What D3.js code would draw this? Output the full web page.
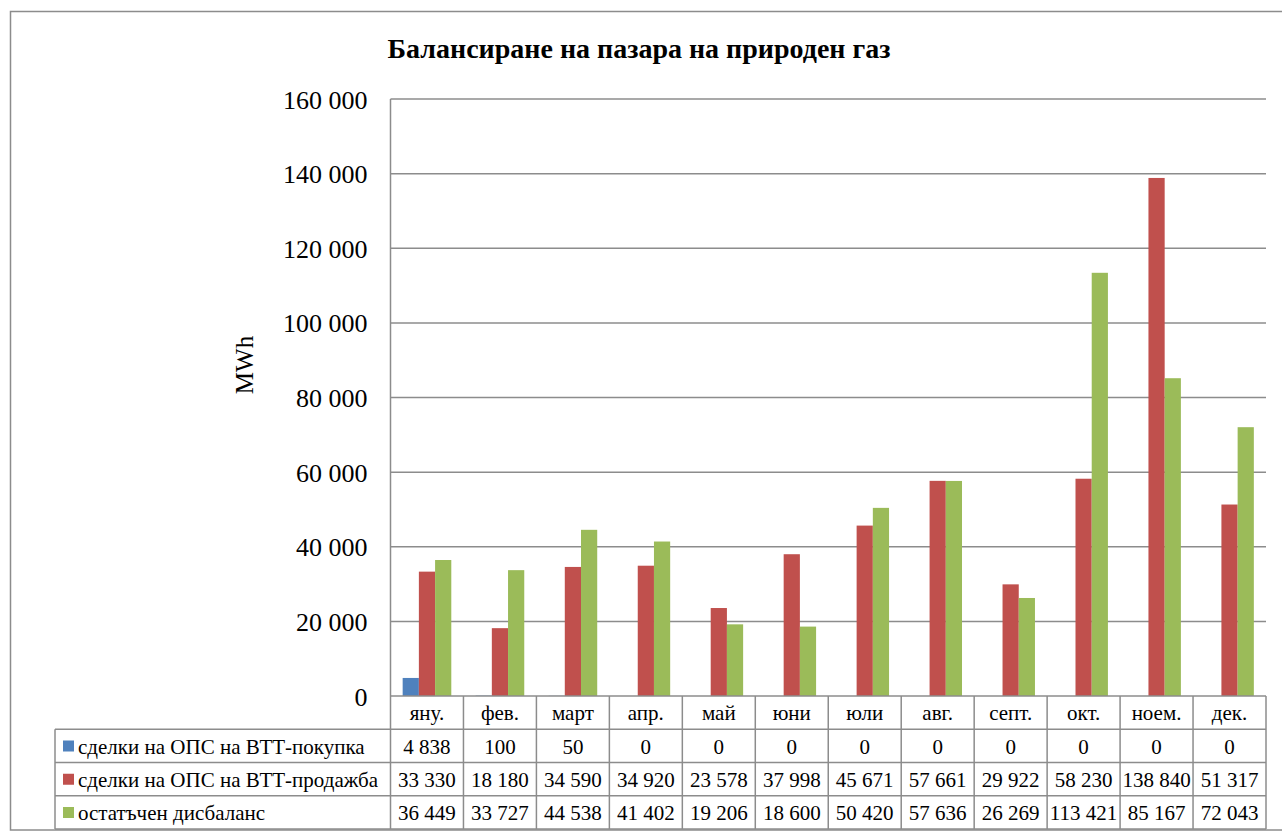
<!DOCTYPE html>
<html>

<head>
    <meta charset="utf-8">
    <title>Балансиране на пазара на природен газ</title>
    <script src="https://d3js.org/d3.v7.min.js"></script>
    <style>
        body {
            margin: 0;
            background: #fff;
        }
    </style>
</head>

<body>
    <div id="chart"></div>
    <script>

        // data
        const months = ["яну.", "фев.", "март", "апр.", "май", "юни", "юли", "авг.", "септ.", "окт.", "ноем.", "дек."];
        const seriesNames = ["сделки на ОПС на ВТТ-покупка", "сделки на ОПС на ВТТ-продажба", "остатъчен дисбаланс"];
        const buy = [4838, 100, 50, 0, 0, 0, 0, 0, 0, 0, 0, 0];
        const sell = [33330, 18180, 34590, 34920, 23578, 37998, 45671, 57661, 29922, 58230, 138840, 51317];
        const residual = [36449, 33727, 44538, 41402, 19206, 18600, 50420, 57636, 26269, 113421, 85167, 72043];
        const yTicks = [0, 20000, 40000, 60000, 80000, 100000, 120000, 140000, 160000];

        const colors = ["#4F81BD", "#C0504D", "#9BBB59"];
        const lineColor = "#8c8c8c";
        const font = "Liberation Serif";
        const series = [buy, sell, residual];

        // layout
        const plotLeft = 390.5, plotRight = 1266, plotTop = 99, plotBottom = 696;
        const rowH = 33.25;
        const legendLeft = 55;

        const fmt = v => d3.format(",")(v).replace(/,/g, " ");

        const svg = d3.select("#chart")
            .append("svg")
            .attr("width", 1282)
            .attr("height", 834)
            .attr("font-family", font);

        // outer frame
        svg.append("rect")
            .attr("x", 10.5).attr("y", 11.5)
            .attr("width", 1300).attr("height", 818.5)
            .attr("fill", "none")
            .attr("stroke", lineColor)
            .attr("stroke-width", 1.5);

        // title
        svg.append("text")
            .attr("x", 639).attr("y", 58)
            .attr("text-anchor", "middle")
            .attr("font-family", font)
            .attr("font-size", 28)
            .attr("font-weight", "bold")
            .text("Балансиране на пазара на природен газ");

        // scales
        const y = d3.scaleLinear().domain([0, 160000]).range([plotBottom, plotTop]);
        const x0 = d3.scaleBand()
            .domain(months)
            .range([plotLeft, plotRight])
            .paddingInner(1 / 3)
            .paddingOuter(1 / 6);
        const x1 = d3.scaleBand()
            .domain([0, 1, 2])
            .range([0, x0.bandwidth()]);
        const col = d3.scaleBand().domain(months).range([plotLeft, plotRight]);

        // gridlines
        svg.append("g")
            .selectAll("line")
            .data(yTicks.filter(d => d > 0))
            .join("line")
            .attr("x1", plotLeft).attr("x2", plotRight)
            .attr("y1", d => y(d)).attr("y2", d => y(d))
            .attr("stroke", lineColor)
            .attr("stroke-width", 1.5);

        // y axis
        const yAxis = svg.append("g")
            .attr("transform", `translate(${plotLeft},0)`)
            .call(d3.axisLeft(y).tickValues(yTicks).tickSize(0).tickPadding(23).tickFormat(fmt))
            .attr("font-family", font)
            .attr("font-size", 26);
        yAxis.select(".domain").remove();
        yAxis.selectAll("text")
            .attr("fill", "#000")
            .attr("dy", "0.35em");

        svg.append("text")
            .attr("transform", "translate(253,365) rotate(-90)")
            .attr("text-anchor", "middle")
            .attr("font-family", font)
            .attr("font-size", 25)
            .text("MWh");

        // bars
        series.forEach((vals, i) => {
            svg.append("g")
                .selectAll("rect")
                .data(vals)
                .join("rect")
                .attr("x", (d, j) => x0(months[j]) + x1(i))
                .attr("y", d => y(d))
                .attr("width", x1.bandwidth())
                .attr("height", d => plotBottom - y(d))
                .attr("fill", colors[i]);
        });

        // data table
        const table = svg.append("g")
            .attr("font-family", font)
            .attr("font-size", 21);
        const rowsY = d3.range(5).map(k => plotBottom + k * rowH);

        // horizontal lines
        table.selectAll("line.h")
            .data(rowsY)
            .join("line")
            .attr("class", "h")
            .attr("x1", (d, k) => k === 0 ? plotLeft : legendLeft)
            .attr("x2", plotRight)
            .attr("y1", d => d).attr("y2", d => d)
            .attr("stroke", lineColor)
            .attr("stroke-width", 1.5);

        // vertical lines
        const colEdges = months.map(m => col(m)).concat([plotRight]);
        table.selectAll("line.v")
            .data(colEdges)
            .join("line")
            .attr("class", "v")
            .attr("x1", d => d).attr("x2", d => d)
            .attr("y1", (d, k) => k === 0 ? plotTop : plotBottom)
            .attr("y2", rowsY[4])
            .attr("stroke", lineColor)
            .attr("stroke-width", 1.5);
        table.append("line")
            .attr("x1", legendLeft).attr("x2", legendLeft)
            .attr("y1", rowsY[1]).attr("y2", rowsY[4])
            .attr("stroke", lineColor)
            .attr("stroke-width", 1.5);

        // month labels
        table.selectAll("text.m")
            .data(months)
            .join("text")
            .attr("class", "m")
            .attr("x", d => col(d) + col.bandwidth() / 2)
            .attr("y", rowsY[1] - 9)
            .attr("text-anchor", "middle")
            .text(d => d);

        // values and legend keys
        series.forEach((vals, i) => {
            const base = rowsY[i + 2] - 9;
            table.append("g")
                .selectAll("text")
                .data(vals)
                .join("text")
                .attr("x", (d, j) => col(months[j]) + col.bandwidth() / 2)
                .attr("y", base)
                .attr("text-anchor", "middle")
                .text(d => fmt(d));

            table.append("rect")
                .attr("x", 63).attr("y", base - 13)
                .attr("width", 11).attr("height", 11)
                .attr("fill", colors[i]);
            table.append("text")
                .attr("x", 78).attr("y", base)
                .text(seriesNames[i]);
        });

    </script>
</body>

</html>
